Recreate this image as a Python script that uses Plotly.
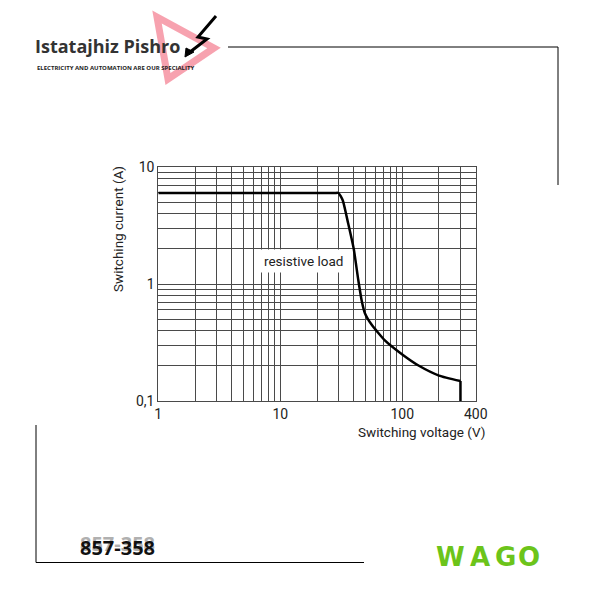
import plotly.graph_objects as go

# ---- data ----
voltage = [1, 10, 28, 30, 32.5, 36, 40, 43.5, 46.5, 49.5, 56, 72, 100, 137, 200, 300]
current = [6, 6, 6, 6, 5.2, 3.3, 2.0, 1.1, 0.72, 0.56, 0.45, 0.33, 0.25, 0.2, 0.165, 0.148]
cutoff_voltage = [300, 300]
cutoff_current = [0.148, 0.1]

x_grid = [1, 2, 3, 4, 5, 6, 7, 8, 9, 10, 20, 30, 40, 50, 60, 70, 80, 90, 100, 200, 300, 400]
x_labels = ["1", "", "", "", "", "", "", "", "", "10", "", "", "", "", "", "", "", "", "100", "", "", "400"]
y_grid = [0.1, 0.2, 0.3, 0.4, 0.5, 0.6, 0.7, 0.8, 0.9, 1, 2, 3, 4, 5, 6, 7, 8, 9, 10]
y_labels = ["0,1", "", "", "", "", "", "", "", "", "1", "", "", "", "", "", "", "", "", "10"]

W = H = 600
def px(x):
    return x / W
def py(y):
    return 1 - y / H
def path(points, close=False):
    s = "M " + " L ".join(f"{px(x):.4f},{py(y):.4f}" for x, y in points)
    return s + (" Z" if close else "")

FONT = "Roboto, sans-serif"
GRID = "#4a4a4a"

fig = go.Figure()
fig.add_trace(go.Scatter(x=voltage, y=current, mode="lines",
                         line=dict(color="black", width=2.5, shape="spline", smoothing=0.5),
                         hoverinfo="skip", showlegend=False))
fig.add_trace(go.Scatter(x=cutoff_voltage, y=cutoff_current, mode="lines",
                         line=dict(color="black", width=2.5),
                         hoverinfo="skip", showlegend=False))

fig.update_layout(
    width=W, height=H, autosize=False,
    margin=dict(l=0, r=0, t=0, b=0, pad=0, autoexpand=False),
    paper_bgcolor="white", plot_bgcolor="white",
    showlegend=False,
    xaxis=dict(type="log", range=[0, 2.60206], domain=[px(158.3), px(475.7)],
               tickvals=x_grid, ticktext=x_labels, ticks="", automargin=False,
               showgrid=True, gridcolor=GRID, gridwidth=1,
               showline=True, mirror=True, linecolor=GRID, linewidth=1,
               tickfont=dict(family=FONT, size=14, color="#222"), fixedrange=True),
    yaxis=dict(type="log", range=[-1, 1], domain=[py(401), py(167)],
               tickvals=y_grid, ticktext=y_labels, ticks="", automargin=False,
               showgrid=True, gridcolor=GRID, gridwidth=1,
               showline=True, mirror=True, linecolor=GRID, linewidth=1,
               tickfont=dict(family=FONT, size=14, color="#222"), fixedrange=True),
)

ann = []
# axis titles
ann.append(dict(x=px(487), y=py(432), xref="paper", yref="paper", xanchor="right", yanchor="middle",
                text="Switching voltage (V)", showarrow=False,
                font=dict(family=FONT, size=13.5, color="#222")))
ann.append(dict(x=px(118), y=py(229), xref="paper", yref="paper", xanchor="center", yanchor="middle",
                text="Switching current (A)", showarrow=False, textangle=-90,
                font=dict(family=FONT, size=13.5, color="#222")))
# curve label
ann.append(dict(x=px(303), y=py(261), xref="paper", yref="paper", xanchor="center", yanchor="middle",
                text="resistive load", showarrow=False, bgcolor="white", borderpad=3,
                font=dict(family=FONT, size=13.5, color="#222")))
# logo texts
ann.append(dict(x=px(33), y=py(46), xref="paper", yref="paper", xanchor="left", yanchor="middle",
                text="<b>Istatajhiz Pishro</b>", showarrow=False,
                font=dict(family="Open Sans", size=18, color="#333")))
ann.append(dict(x=px(35), y=py(68), xref="paper", yref="paper", xanchor="left", yanchor="middle",
                text="<b>ELECTRICITY AND AUTOMATION ARE OUR SPECIALITY</b>", showarrow=False,
                font=dict(family="Open Sans", size=6, color="#222")))
# part number (ghost + main)
ann.append(dict(x=px(78), y=py(543), xref="paper", yref="paper", xanchor="left", yanchor="middle",
                text="<b>857-358</b>", showarrow=False,
                font=dict(family="Open Sans", size=20, color="#b0b0b0")))
ann.append(dict(x=px(78), y=py(547), xref="paper", yref="paper", xanchor="left", yanchor="middle",
                text="<b>857-358</b>", showarrow=False,
                font=dict(family="Open Sans", size=20, color="#111")))
# WAGO letters
for ch, cx in zip(["W", "A", "G", "O"], [450, 480, 505, 529]):
    ann.append(dict(x=px(cx), y=py(557), xref="paper", yref="paper", xanchor="center", yanchor="middle",
                    text=f"<b>{ch}</b>", showarrow=False,
                    font=dict(family="DejaVu Sans", size=26, color="#6cc41a")))
fig.update_layout(annotations=ann)

shapes = []
# logo play-triangle and bolt
shapes.append(dict(type="path", xref="paper", yref="paper",
                   path=path([(157, 17), (214, 48), (168, 79)], close=True),
                   line=dict(color="rgba(240,85,110,0.55)", width=7), layer="below"))
shapes.append(dict(type="path", xref="paper", yref="paper",
                   path=path([(216, 16), (198, 37), (207, 39), (190, 52)]),
                   line=dict(color="black", width=3)))
shapes.append(dict(type="path", xref="paper", yref="paper",
                   path=path([(185, 57), (186, 48), (194, 52)], close=True),
                   fillcolor="black", line=dict(color="black", width=1)))
# frame lines
shapes.append(dict(type="line", xref="paper", yref="paper", x0=px(228), y0=py(47), x1=px(558), y1=py(47),
                   line=dict(color="black", width=1)))
shapes.append(dict(type="line", xref="paper", yref="paper", x0=px(558), y0=py(47), x1=px(558), y1=py(185),
                   line=dict(color="black", width=1)))
shapes.append(dict(type="line", xref="paper", yref="paper", x0=px(36), y0=py(425), x1=px(36), y1=py(562.5),
                   line=dict(color="black", width=1)))
shapes.append(dict(type="line", xref="paper", yref="paper", x0=px(36), y0=py(562.5), x1=px(364), y1=py(562.5),
                   line=dict(color="black", width=1)))
fig.update_layout(shapes=shapes)

fig.write_html("out.html",
               config=dict(displayModeBar=False),
               post_script="document.body.style.margin='0';document.body.style.overflow='hidden';")
